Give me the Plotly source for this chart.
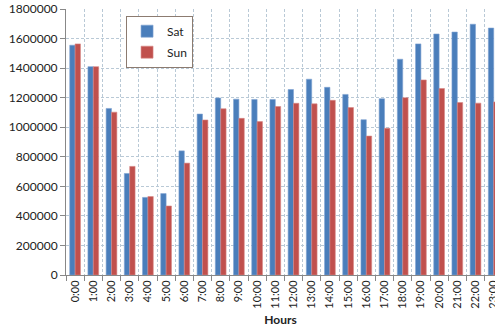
import plotly.graph_objects as go

hours = [f"{h}:00" for h in range(24)]
sat = [1555000, 1410000, 1127000, 687000, 525000, 551000, 840000, 1089000,
       1198000, 1190000, 1188000, 1188000, 1255000, 1325000, 1270000, 1222000,
       1051000, 1193000, 1460000, 1564000, 1631000, 1644000, 1697000, 1671000]
sun = [1564000, 1410000, 1102000, 735000, 531000, 467000, 757000, 1049000,
       1125000, 1060000, 1038000, 1140000, 1162000, 1158000, 1182000, 1133000,
       940000, 993000, 1200000, 1320000, 1262000, 1167000, 1163000, 1171000]
y_ticks = list(range(0, 1800001, 200000))

SAT_COLOR = "#4a7ebb"
SUN_COLOR = "#c0504d"
GRID = "#b9c9d6"
FONT = "Lato"

fig = go.Figure()
fig.add_trace(go.Bar(name="Sat", x=hours, y=sat, marker_color=SAT_COLOR,
                     marker_line=dict(color="#7fa3d2", width=0.6), legendgroup="a"))
fig.add_trace(go.Bar(name="Sun", x=hours, y=sun, marker_color=SUN_COLOR,
                     marker_line=dict(color="#d68886", width=0.6), legendgroup="b"))

fig.update_layout(
    width=495, height=331,
    margin=dict(l=66, r=0, t=9, b=56, autoexpand=False),
    paper_bgcolor="white", plot_bgcolor="white",
    barmode="group", bargap=0.41, bargroupgap=0,
    font=dict(family=FONT, size=12, color="#222"),
    showlegend=True,
    legend=dict(x=0.14, y=0.975, xanchor="left", yanchor="top",
                bgcolor="white", bordercolor="#8c7b70", borderwidth=1,
                font=dict(size=12, family=FONT), tracegroupgap=2,
                traceorder="grouped", itemwidth=30),
    xaxis=dict(type="category", range=[-0.5, 23.07], tickson="boundaries",
               automargin=False,
               tickangle=-90, ticks="outside", ticklen=5, tickcolor="#888",
               showline=True, linecolor="#888", linewidth=1,
               showgrid=True, gridcolor=GRID, griddash="3px,2px", gridwidth=1,
               tickfont=dict(size=11, family=FONT),
               title=dict(text="<b>Hours</b>", font=dict(size=12, family=FONT), standoff=7)),
    yaxis=dict(range=[0, 1800000], tickvals=y_ticks, tickformat="d",
               automargin=False, ticklabeloverflow="allow",
               ticks="outside", ticklen=5, tickcolor="#888",
               showline=True, linecolor="#888", linewidth=1,
               showgrid=True, gridcolor=GRID, griddash="3px,2px", gridwidth=1,
               tickfont=dict(size=12, family=FONT), zeroline=False),
)

fig.write_html("out.html", config={"displayModeBar": False},
               post_script="document.body.style.margin='0';document.body.style.overflow='hidden';")
